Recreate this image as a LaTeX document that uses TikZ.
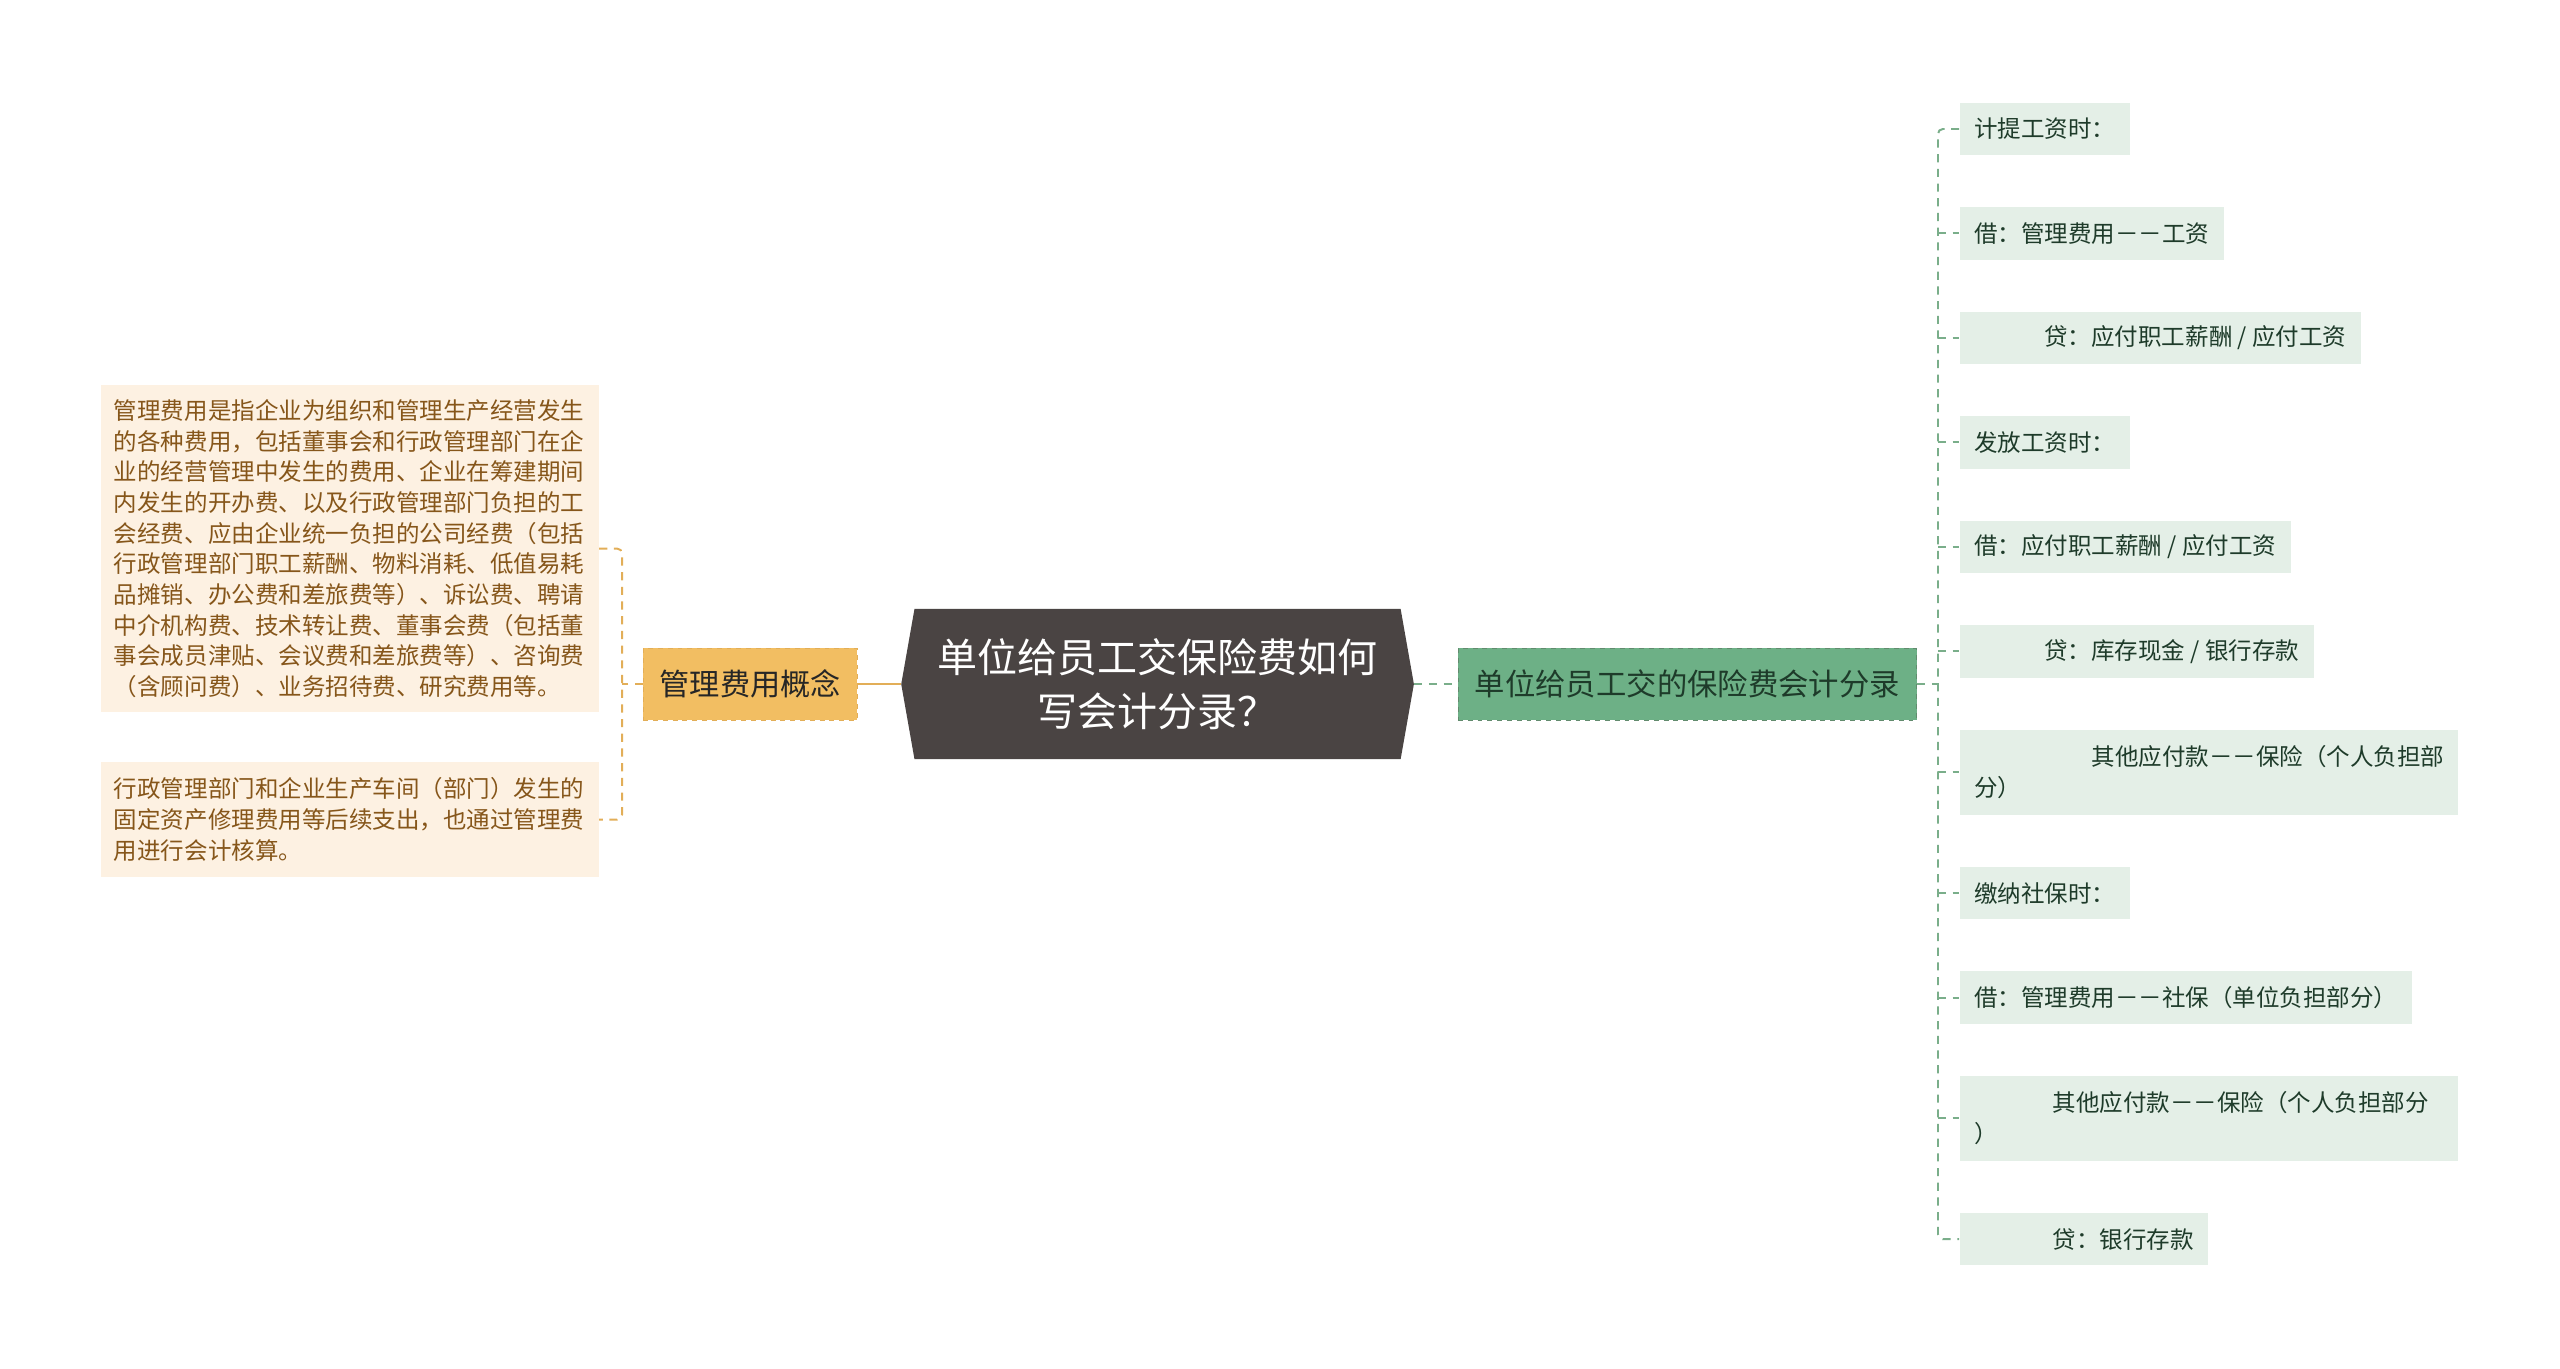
\documentclass[tikz,border=0pt]{standalone}
\usepackage{fontspec}
\setmainfont{Noto Sans CJK SC}
\usetikzlibrary{shapes.symbols}

\definecolor{topicfill}{HTML}{4A4443}
\definecolor{conceptfill}{HTML}{F2BE62}
\definecolor{conceptline}{HTML}{E2AE58}
\definecolor{entryfill}{HTML}{6DB086}
\definecolor{entryline}{HTML}{7AAE8A}
\definecolor{notefill}{HTML}{FDF1E2}
\definecolor{notetext}{HTML}{86561A}
\definecolor{stepfill}{HTML}{E4EFE7}
\definecolor{steptext}{HTML}{1E3B2A}

\newcommand\leaffont{\fontsize{14.4}{18.8}\selectfont}

\begin{document}
\begin{tikzpicture}[x=1pt, y=-1pt,
    topic/.style={signal, signal to=west and east, signal pointer angle=160,
      fill=topicfill, text=white, minimum width=314pt, minimum height=92pt,
      align=center, font=\fontsize{24.5}{33}\selectfont},
    concept/.style={fill=conceptfill, draw=conceptline, dashed, text=black!85,
      minimum width=131pt, minimum height=44pt, font=\fontsize{18.5}{22}\selectfont},
    entry/.style={fill=entryfill, draw=entryline!80!black, dashed, text=steptext,
      minimum width=281pt, minimum height=44pt, font=\fontsize{18.6}{22}\selectfont},
    note/.style={fill=notefill, text=notetext, anchor=east, align=left,
      text width=289pt, inner xsep=8pt, font=\leaffont},
    stepbox/.style={fill=stepfill, text=steptext, anchor=west, align=left,
      inner xsep=9pt, minimum height=32pt, font=\leaffont},
    llink/.style={draw=conceptline, line width=1.2pt, dash pattern=on 5pt off 4pt},
    rlink/.style={draw=entryline, line width=1.2pt, dash pattern=on 5pt off 4pt}]

    \useasboundingbox (0,0) rectangle (1568,838);

    %% Central topic
    \node[topic] (topic) at (709,419) {单位给员工交保险费如何\\写会计分录？};

    %% Left branch
    \node[concept] (concept) at (459.5,419) {管理费用概念};
    \draw[conceptline, line width=1.5pt] (topic.west) -- (concept.east);

    % Notes
    \node[note, minimum height=200pt] (l1) at (367,336) {管理费用是指企业为组织和管理生产经营发生\\的各种费用，包括董事会和行政管理部门在企\\业的经营管理中发生的费用、企业在筹建期间\\内发生的开办费、以及行政管理部门负担的工\\会经费、应由企业统一负担的公司经费（包括\\行政管理部门职工薪酬、物料消耗、低值易耗\\品摊销、办公费和差旅费等）、诉讼费、聘请\\中介机构费、技术转让费、董事会费（包括董\\事会成员津贴、会议费和差旅费等）、咨询费\\（含顾问费）、业务招待费、研究费用等。};
    \node[note, minimum height=70pt] (l2) at (367,502) {行政管理部门和企业生产车间（部门）发生的\\固定资产修理费用等后续支出，也通过管理费\\用进行会计核算。};

    % Links
    \coordinate (lfork) at (381,419);
    \draw[llink] (concept.west) -- (lfork);
    \draw[llink, rounded corners=3pt] (l1.east) -| (lfork) |- (l2.east);

    %% Right branch
    \node[entry] (entry) at (1033.5,419) {单位给员工交的保险费会计分录};
    \draw[rlink] (topic.east) -- (entry.west);

    % Entries
    \node[stepbox] (r1) at (1200,79) {计提工资时：};
    \node[stepbox] (r2) at (1200,143) {借：管理费用－－工资};
    \node[stepbox] (r3) at (1200,207) {\hspace*{43pt}贷：应付职工薪酬 / 应付工资};
    \node[stepbox] (r4) at (1200,271) {发放工资时：};
    \node[stepbox] (r5) at (1200,335) {借：应付职工薪酬 / 应付工资};
    \node[stepbox] (r6) at (1200,399) {\hspace*{43pt}贷：库存现金 / 银行存款};
    \node[stepbox, text width=287pt, minimum height=52pt] (r7) at (1200,473) {\hspace*{72pt}其他应付款－－保险（个人负担部\\分）};
    \node[stepbox] (r8) at (1200,547) {缴纳社保时：};
    \node[stepbox] (r9) at (1200,611) {借：管理费用－－社保（单位负担部分）};
    \node[stepbox, text width=287pt, minimum height=52pt] (r10) at (1200,685) {\hspace*{48pt}其他应付款－－保险（个人负担部分\\）};
    \node[stepbox] (r11) at (1200,759) {\hspace*{48pt}贷：银行存款};

    % Links
    \coordinate (rfork) at (1187,419);
    \draw[rlink] (entry.east) -- (rfork);
    \draw[rlink, rounded corners=3pt] (r1.west) -| (rfork) |- (r11.west);
    \foreach \i in {2,...,10}
        \draw[rlink] (rfork |- r\i.west) -- (r\i.west);

\end{tikzpicture}
\end{document}
